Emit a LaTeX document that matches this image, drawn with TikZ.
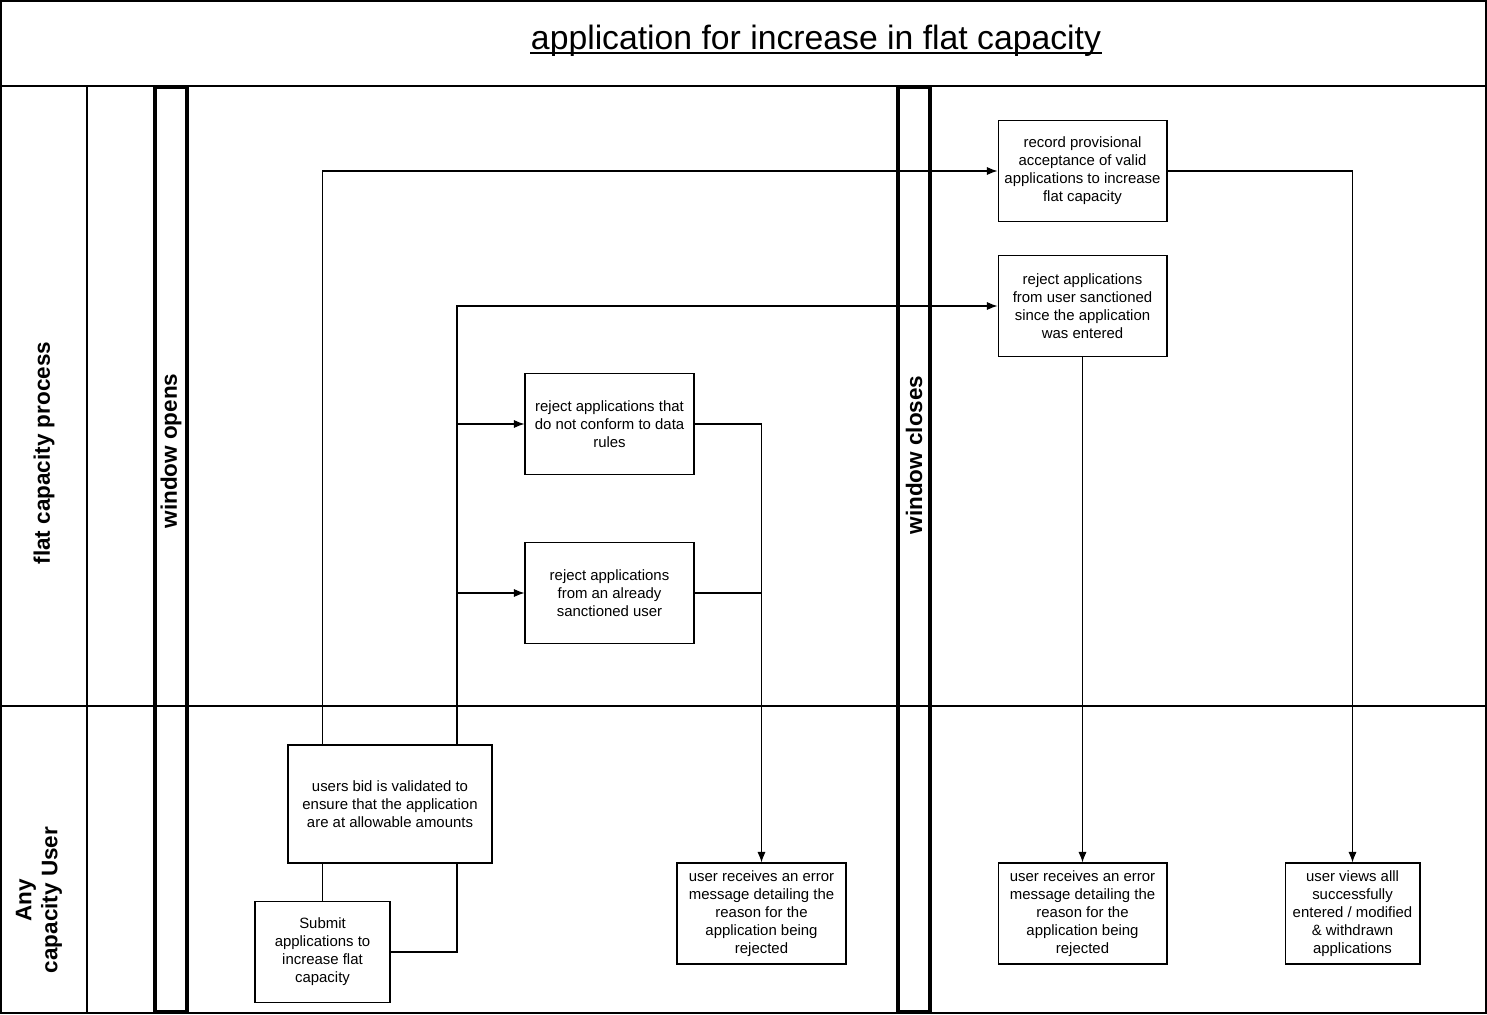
\documentclass[tikz,border=0pt]{standalone}
\usepackage{fontspec}
\setmainfont{Liberation Sans}
\usetikzlibrary{arrows.meta,positioning}

\begin{document}
\begin{tikzpicture}[x=0.02cm,y=-0.02cm,>={Latex[length=6pt,width=4.6pt]},line width=0.6pt]
  \tikzstyle{box}=[draw,align=center,inner sep=0pt,minimum width=3.38cm,minimum height=2.02cm,font=\fontsize{8.5}{10.2}\selectfont]
  \tikzstyle{frame}=[line width=1.1pt]
  \tikzstyle{bar}=[line width=2.4pt]
  \tikzstyle{lane}=[rotate=90,align=center,font=\fontsize{12.8}{14.7}\selectfont\bfseries]

  \useasboundingbox (0,0) rectangle (1487,1014);

  % frame and lanes
  \draw[frame] (1,1) rectangle (1486,1013);
  \draw[frame] (1,86) -- (1486,86);
  \draw[frame] (1,706) -- (1486,706);
  \draw[line width=1pt] (87,86) -- (87,1013);
  \draw[bar] (155,87) rectangle (187,1012);
  \draw[bar] (898,87) rectangle (930,1012);

  \node[anchor=base,inner xsep=0pt,font=\fontsize{19.2}{22}\selectfont] (title) at (816,50) {application for increase in flat capacity};
  \draw[line width=1.1pt] ([yshift=-1.8pt]title.base west) -- ([yshift=-1.8pt]title.base east);
  \node[lane] (lproc) at (44,453) {flat capacity process};
  \node[lane] (luser) at (39,900) {Any\\capacity User};
  \node[lane] (wopen) at (171,451) {window opens};
  \node[lane] (wclose) at (914,455) {window closes};

  % process steps
  \node[box] (record)   at (1082.5,171) {record provisional\\acceptance of valid\\applications to increase\\flat capacity};
  \node[box] (rejsince) at (1082.5,306) {reject applications\\from user sanctioned\\since the application\\was entered};
  \node[box] (rejrules) at (609.5,424) {reject applications that\\do not conform to data\\rules};
  \node[box] (rejuser)  at (609.5,593) {reject applications\\from an already\\sanctioned user};
  \node[box,minimum width=4.08cm,minimum height=2.36cm] (valid) at (390,804) {users bid is validated to\\ensure that the application\\are at allowable amounts};
  \node[box,minimum width=2.7cm] (submit) at (322.5,952) {Submit\\applications to\\increase flat\\capacity};
  \node[box] (err1) at (761.5,913.5) {user receives an error\\message detailing the\\reason for the\\application being\\rejected};
  \node[box] (err2) at (1082.5,913.5) {user receives an error\\message detailing the\\reason for the\\application being\\rejected};
  \node[box,minimum width=2.7cm] (views) at (1352.5,913.5) {user views alll\\successfully\\entered / modified\\\& withdrawn\\applications};

  \coordinate (tk) at (457,706);

  \draw (submit.north) -- (submit.north |- valid.south);
  \draw (submit.east) -| (valid.south -| tk);
  \draw[->] (valid.north -| submit.north) |- (record.west);
  \draw[->] (valid.north -| tk) |- (rejsince.west);
  \draw[->] (rejrules.west -| tk) -- (rejrules.west);
  \draw[->] (rejuser.west -| tk) -- (rejuser.west);
  \draw[->] (rejrules.east) -| (err1.north);
  \draw (rejuser.east) -- (rejuser.east -| err1.north);
  \draw[->] (rejsince.south) -- (err2.north);
  \draw[->] (record.east) -| (views.north);
\end{tikzpicture}
\end{document}
